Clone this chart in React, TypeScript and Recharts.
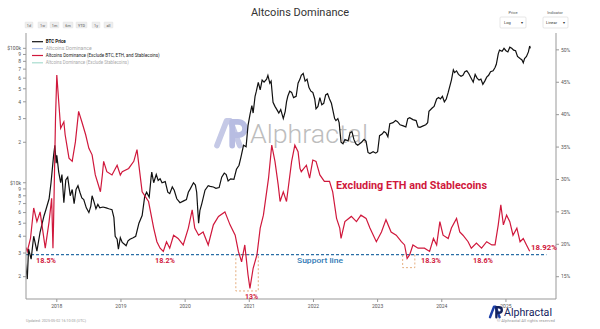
import React from 'react';
import { LineChart, Line, XAxis, YAxis, ReferenceLine, ReferenceArea } from 'recharts';

// ---- data (decimal years) ----
const btcDates = [
  2017.51, 2017.54, 2017.56, 2017.6, 2017.64, 2017.69, 2017.74, 2017.8, 2017.83, 2017.88, 2017.91, 2017.95, 2017.97, 2017.99,
  2018.0, 2018.03, 2018.06, 2018.08, 2018.11, 2018.14, 2018.17, 2018.21, 2018.24, 2018.27, 2018.3, 2018.33, 2018.36, 2018.39,
  2018.42, 2018.46, 2018.5, 2018.53, 2018.55, 2018.58, 2018.61, 2018.64, 2018.67, 2018.72, 2018.77, 2018.81, 2018.86, 2018.89,
  2018.91, 2018.94, 2018.96, 2018.99, 2019.02, 2019.05, 2019.08, 2019.11, 2019.14, 2019.19, 2019.23, 2019.28, 2019.33, 2019.37,
  2019.4, 2019.44, 2019.47, 2019.48, 2019.51, 2019.55, 2019.58, 2019.61, 2019.64, 2019.69, 2019.73, 2019.76, 2019.8, 2019.83,
  2019.87, 2019.92, 2019.97, 2020.02, 2020.05, 2020.08, 2020.13, 2020.16, 2020.18, 2020.21, 2020.23, 2020.26, 2020.31, 2020.36,
  2020.39, 2020.44, 2020.48, 2020.53, 2020.57, 2020.61, 2020.64, 2020.67, 2020.71, 2020.76, 2020.8, 2020.84, 2020.87, 2020.91,
  2020.95, 2020.98, 2021.01, 2021.04, 2021.06, 2021.09, 2021.11, 2021.14, 2021.17, 2021.2, 2021.23, 2021.27, 2021.29, 2021.32,
  2021.34, 2021.37, 2021.4, 2021.43, 2021.46, 2021.49, 2021.53, 2021.56, 2021.58, 2021.6, 2021.63, 2021.66, 2021.69, 2021.73,
  2021.76, 2021.79, 2021.81, 2021.84, 2021.87, 2021.9, 2021.93, 2021.96, 2021.99, 2022.02, 2022.04, 2022.07, 2022.1, 2022.13,
  2022.16, 2022.19, 2022.22, 2022.25, 2022.28, 2022.33, 2022.35, 2022.38, 2022.4, 2022.43, 2022.46, 2022.49, 2022.54, 2022.57,
  2022.6, 2022.63, 2022.66, 2022.69, 2022.72, 2022.75, 2022.79, 2022.82, 2022.85, 2022.88, 2022.93, 2022.97, 2023.0, 2023.03,
  2023.07, 2023.1, 2023.13, 2023.16, 2023.19, 2023.24, 2023.28, 2023.31, 2023.35, 2023.4, 2023.44, 2023.47, 2023.5, 2023.55,
  2023.6, 2023.63, 2023.66, 2023.71, 2023.75, 2023.78, 2023.8, 2023.85, 2023.88, 2023.92, 2023.95, 2023.98, 2024.01, 2024.04,
  2024.07, 2024.1, 2024.15, 2024.18, 2024.2, 2024.23, 2024.26, 2024.3, 2024.33, 2024.36, 2024.39, 2024.42, 2024.45, 2024.49,
  2024.52, 2024.55, 2024.58, 2024.61, 2024.64, 2024.67, 2024.7, 2024.73, 2024.76, 2024.8, 2024.83, 2024.85, 2024.88, 2024.9,
  2024.94, 2024.97, 2025.0, 2025.03, 2025.06, 2025.09, 2025.12, 2025.15, 2025.18, 2025.22, 2025.25, 2025.27, 2025.29, 2025.32,
  2025.35, 2025.37, 2025.38,
];
const btcPrices = [
  2540, 1920, 3220, 2700, 4000, 3100, 4300, 5660, 6300, 7600, 10000, 15900, 19000, 14000,
  16000, 12000, 10000, 11500, 7100, 10500, 11000, 8000, 8900, 7000, 8900, 9500, 8500, 7700,
  7500, 6500, 6000, 6700, 8000, 7200, 6400, 6900, 6500, 6600, 6500, 6400, 6300, 5500,
  4000, 3800, 3200, 3900, 3600, 3500, 3400, 3700, 3800, 3900, 4000, 5000, 5700, 7900,
  8500, 7800, 11000, 12000, 10000, 11500, 10400, 10700, 10000, 10200, 8500, 8300, 9300, 8800,
  7600, 7100, 7300, 7500, 8500, 9000, 10000, 9600, 8500, 5000, 6200, 7000, 8800, 9500,
  9400, 9300, 9100, 9200, 11000, 11800, 11500, 10300, 10700, 10600, 12600, 13500, 15500, 19000,
  18500, 26600, 32000, 37500, 33000, 44000, 48000, 55800, 49000, 58000, 56000, 59000, 63000, 55000,
  57000, 39700, 37000, 35000, 33000, 35000, 30000, 34000, 40000, 44000, 48000, 47000, 43000, 44000,
  55000, 59000, 63000, 65000, 57000, 59000, 51000, 48000, 47000, 42000, 35500, 37000, 43000, 38000,
  39000, 45000, 46000, 42000, 39000, 30000, 29000, 30000, 28000, 20000, 19500, 21000, 20500, 23500,
  24000, 21000, 19500, 19000, 19500, 20000, 21000, 20300, 16800, 16500, 17000, 16600, 17000, 22400,
  23000, 24000, 23500, 22000, 27500, 28000, 29000, 28500, 27000, 26500, 26000, 30000, 30500, 29500,
  29000, 26000, 25800, 26500, 27000, 28000, 34000, 36000, 37000, 42000, 43000, 42000, 44000, 40000,
  42000, 47000, 58000, 69000, 66000, 68000, 64000, 62000, 63000, 67000, 68000, 65000, 61000, 56000,
  64000, 60000, 58000, 59000, 54000, 57000, 61000, 63000, 67000, 68000, 72000, 76000, 91000, 97000,
  95000, 100000, 96000, 94000, 102000, 100000, 97000, 96000, 87000, 84000, 82000, 78000, 84000, 87000,
  94000, 104000, 100000,
];

const domDates = [
  2017.52, 2017.54, 2017.59, 2017.64, 2017.69, 2017.74, 2017.82, 2017.88, 2017.92, 2017.94, 2017.95, 2017.98,
  2018.0, 2018.03, 2018.06, 2018.11, 2018.13, 2018.19, 2018.24, 2018.29, 2018.34, 2018.39, 2018.45, 2018.5,
  2018.55, 2018.6, 2018.68, 2018.71, 2018.73, 2018.78, 2018.86, 2018.94, 2018.99, 2019.02, 2019.12, 2019.2,
  2019.25, 2019.33, 2019.43, 2019.51, 2019.56, 2019.61, 2019.66, 2019.71, 2019.76, 2019.82, 2019.89, 2019.97,
  2020.05, 2020.11, 2020.15, 2020.21, 2020.28, 2020.36, 2020.44, 2020.52, 2020.62, 2020.7, 2020.78, 2020.83,
  2020.88, 2020.93, 2020.98, 2021.01, 2021.06, 2021.12, 2021.17, 2021.22, 2021.3, 2021.35, 2021.4, 2021.45,
  2021.48, 2021.53, 2021.58, 2021.66, 2021.71, 2021.76, 2021.79, 2021.81, 2021.89, 2021.94, 2021.99, 2022.04,
  2022.1, 2022.17, 2022.25, 2022.3, 2022.36, 2022.41, 2022.43, 2022.49, 2022.59, 2022.67, 2022.74, 2022.82,
  2022.88, 2022.98, 2023.06, 2023.13, 2023.21, 2023.29, 2023.37, 2023.42, 2023.46, 2023.5, 2023.55, 2023.63,
  2023.73, 2023.81, 2023.87, 2023.92, 2023.97, 2024.02, 2024.1, 2024.15, 2024.23, 2024.28, 2024.33, 2024.41,
  2024.46, 2024.54, 2024.62, 2024.7, 2024.78, 2024.83, 2024.88, 2024.92, 2024.96, 2025.01, 2025.06, 2025.11,
  2025.17, 2025.22, 2025.27, 2025.32, 2025.37,
];
const domValues = [
  19.5, 18.9, 20.9, 25.6, 23.5, 25.0, 19.4, 23.5, 27.1, 19.4, 23.5, 39.5,
  46.1, 42.0, 37.9, 38.9, 36.9, 33.3, 32.8, 35.8, 40.5, 38.9, 36.9, 34.8,
  33.8, 30.7, 28.1, 30.7, 32.8, 31.2, 30.7, 32.2, 30.7, 31.2, 31.7, 32.8,
  34.6, 28.1, 26.6, 22.5, 20.4, 19.4, 18.9, 20.4, 19.4, 21.4, 20.9, 19.9,
  22.5, 25.3, 22.5, 21.4, 21.9, 19.9, 23.0, 24.3, 25.0, 23.0, 21.4, 18.9,
  17.3, 19.9, 15.3, 13.2, 16.3, 18.4, 22.5, 24.5, 30.2, 35.3, 32.8, 29.2,
  26.6, 28.1, 26.6, 32.8, 35.3, 34.3, 31.7, 31.2, 32.2, 30.2, 33.0, 32.8,
  30.7, 29.7, 29.7, 28.1, 24.0, 22.5, 20.9, 23.5, 24.3, 23.5, 24.5, 24.0,
  22.5, 20.4, 21.9, 23.8, 21.9, 21.4, 20.4, 19.9, 17.8, 18.4, 19.9, 19.4,
  19.4, 18.9, 20.9, 19.9, 23.5, 21.4, 20.9, 22.5, 24.0, 21.9, 21.4, 20.4,
  19.4, 20.2, 19.4, 20.4, 19.9, 19.9, 23.0, 26.1, 23.0, 24.5, 23.5, 21.4,
  22.5, 20.4, 20.9, 19.9, 18.92,
];

const yearTicks = [2018, 2019, 2020, 2021, 2022, 2023, 2024, 2025];
const priceTicks = [2000, 3000, 4000, 5000, 6000, 7000, 8000, 9000, 10000, 20000, 30000, 40000, 50000, 60000, 70000, 80000, 90000, 100000];
const pctTicks = [15, 20, 25, 30, 35, 40, 45, 50];
const supportLevel = 18.4;
const rangeButtons = ['1d', '1w', '1m', '6m', 'YTD', '1y', 'all'];

type Row = { t: number; btc?: number; dom?: number };
const rows: Row[] = [
  ...btcDates.map((t, i) => ({ t, btc: btcPrices[i] })),
  ...domDates.map((t, i) => ({ t, dom: domValues[i] })),
].sort((a, b) => a.t - b.t);

const RED = '#d0183c';
const FONT = 'Roboto, "DejaVu Sans", sans-serif';

const priceFmt = (v: number) => {
  if (v === 100000) return '$100k';
  if (v === 10000) return '$10k';
  if (v < 10000) return String(v / 1000);
  return String(v / 10000);
};

const tickStyle = { fontSize: 5, fill: '#555', fontFamily: FONT };

function Logo({ x, y, s, c1, c2 }: { x: number; y: number; s: number; c1: string; c2: string }) {
  return (
    <g transform={`translate(${x},${y}) scale(${s})`}>
      <path d="M0,28 L10,2 L14,2 L24,28" fill="none" stroke={c1} strokeWidth={6} strokeLinejoin="round" strokeLinecap="round" />
      <path d="M16,28 L16,3 L22,3 C32,3 32,17 22,17 L17,17" fill="none" stroke={c2} strokeWidth={6} strokeLinejoin="round" strokeLinecap="round" />
    </g>
  );
}

export default function App() {
  return (
    <div style={{ position: 'absolute', left: 0, top: 0, width: 600, height: 329, background: '#fff', fontFamily: FONT }}>
      {/* watermark behind */}
      <svg width={600} height={329} style={{ position: 'absolute', left: 0, top: 0 }}>
        <Logo x={217} y={119} s={0.95} c1="#c5c9e6" c2="#b8bde2" />
        <text x={250} y={143} fontSize={26} fontWeight={300} fill="#bdbdbd" fontFamily={FONT} textLength={118} lengthAdjust="spacingAndGlyphs">Alphractal</text>
      </svg>
      <div style={{ position: 'absolute', left: 0, top: 0 }}>
        <LineChart width={600} height={329} data={rows} margin={{ top: 33, right: 0, bottom: 10, left: 6 }}>
          <XAxis
            dataKey="t"
            type="number"
            domain={[2017.52, 2025.78]}
            ticks={yearTicks}
            tickFormatter={(v: number) => String(v)}
            allowDataOverflow
            height={20}
            tick={tickStyle}
            tickSize={3}
            axisLine={{ stroke: '#999' }}
            tickLine={{ stroke: '#999' }}
          />
          <YAxis
            yAxisId="btc"
            scale="log"
            domain={[1365, 130000]}
            ticks={priceTicks}
            tickFormatter={priceFmt}
            allowDataOverflow
            width={20}
            tick={tickStyle}
            tickSize={3}
            axisLine={{ stroke: '#999' }}
            tickLine={{ stroke: '#999' }}
            interval={0}
          />
          <YAxis
            yAxisId="dom"
            orientation="right"
            domain={[11.56, 52.6]}
            ticks={pctTicks}
            tickFormatter={(v: number) => `${v}%`}
            allowDataOverflow
            width={44}
            tick={tickStyle}
            tickSize={3}
            axisLine={{ stroke: '#999' }}
            tickLine={{ stroke: '#999' }}
            interval={0}
          />
          <ReferenceLine
            yAxisId="dom"
            segment={[{ x: 2017.52, y: supportLevel }, { x: 2025.63, y: supportLevel }]}
            stroke="#2a6ea6"
            strokeDasharray="3 2"
            strokeWidth={1.2}
          />
          <ReferenceArea yAxisId="dom" x1={2020.79} x2={2021.14} y1={12.8} y2={supportLevel} fill="none" stroke="#e09a60" strokeDasharray="2 2" strokeWidth={0.8} />
          <ReferenceArea yAxisId="dom" x1={2023.39} x2={2023.58} y1={16.4} y2={supportLevel} fill="none" stroke="#e09a60" strokeDasharray="2 2" strokeWidth={0.8} />
          <Line yAxisId="btc" dataKey="btc" stroke="#111" strokeWidth={1.2} dot={false} connectNulls isAnimationActive={false} />
          <Line yAxisId="dom" dataKey="dom" stroke={RED} strokeWidth={1.2} dot={false} connectNulls isAnimationActive={false} />
        </LineChart>
      </div>
      {/* overlay texts */}
      <svg width={600} height={329} style={{ position: 'absolute', left: 0, top: 0, pointerEvents: 'none' }} fontFamily={FONT}>
        <text x={300} y={16} textAnchor="middle" fontSize={11} fill="#333">Altcoins Dominance</text>
        {rangeButtons.map((b, i) => {
          const xs = [25, 38, 50, 63, 76, 92, 104];
          const ws = [8, 9, 9, 10, 11, 8, 9];
          return (
            <g key={b}>
              <rect x={xs[i]} y={22} width={ws[i]} height={6} fill="#eee" stroke="#ddd" strokeWidth={0.4} rx={0.8} />
              <text x={xs[i] + ws[i] / 2} y={26.5} textAnchor="middle" fontSize={3.8} fill="#555">{b}</text>
            </g>
          );
        })}
        <text x={513} y={14} textAnchor="middle" fontSize={4} fill="#555">Price</text>
        <rect x={500} y={17} width={26} height={11} fill="#fff" stroke="#ccc" strokeWidth={0.5} rx={1} />
        <text x={504} y={24} fontSize={4} fill="#333">Log</text>
        <text x={521} y={24} fontSize={4} fill="#333">▾</text>
        <text x={555} y={14} textAnchor="middle" fontSize={4} fill="#555">Indicator</text>
        <rect x={543} y={17} width={25} height={11} fill="#fff" stroke="#ccc" strokeWidth={0.5} rx={1} />
        <text x={546} y={24} fontSize={4} fill="#333">Linear</text>
        <text x={563} y={24} fontSize={4} fill="#333">▾</text>

        {/* legend */}
        <line x1={32} x2={43} y1={41.7} y2={41.7} stroke="#111" strokeWidth={1.2} />
        <text x={45.7} y={43.2} fontSize={4.5} fill="#111" fontWeight={700}>BTC Price</text>
        <line x1={32} x2={43} y1={48.6} y2={48.6} stroke="#aebfe8" strokeWidth={1.2} />
        <text x={45.7} y={50.1} fontSize={4.5} fill="#aaa" textLength={46} lengthAdjust="spacingAndGlyphs">Altcoins Dominance</text>
        <line x1={32} x2={43} y1={55.5} y2={55.5} stroke={RED} strokeWidth={1.2} />
        <text x={45.7} y={57} fontSize={4.5} fill="#222" textLength={114} lengthAdjust="spacingAndGlyphs">Altcoins Dominance (Exclude BTC, ETH, and Stablecoins)</text>
        <line x1={32} x2={43} y1={62.8} y2={62.8} stroke="#a8dccf" strokeWidth={1.2} />
        <text x={45.7} y={64.3} fontSize={4.5} fill="#aaa" textLength={83} lengthAdjust="spacingAndGlyphs">Altcoins Dominance (Exclude Stablecoins)</text>

        {/* annotations */}
        <text x={336} y={189} fontSize={10.5} fontWeight={700} fill={RED} textLength={151} lengthAdjust="spacingAndGlyphs">Excluding ETH and Stablecoins</text>
        <text x={297} y={263} fontSize={8} fontWeight={500} fill="#2f7ab5" textLength={46} lengthAdjust="spacingAndGlyphs">Support line</text>
        <text x={36} y={263} fontSize={8} fontWeight={700} fill={RED} textLength={20} lengthAdjust="spacingAndGlyphs">18.5%</text>
        <text x={155} y={263} fontSize={8} fontWeight={700} fill={RED} textLength={20} lengthAdjust="spacingAndGlyphs">18.2%</text>
        <text x={245} y={299} fontSize={8} fontWeight={700} fill={RED} textLength={13} lengthAdjust="spacingAndGlyphs">13%</text>
        <text x={421} y={263} fontSize={8} fontWeight={700} fill={RED} textLength={20} lengthAdjust="spacingAndGlyphs">18.3%</text>
        <text x={473} y={263} fontSize={8} fontWeight={700} fill={RED} textLength={20} lengthAdjust="spacingAndGlyphs">18.6%</text>
        <text x={531} y={250} fontSize={8} fontWeight={700} fill={RED} textLength={26} lengthAdjust="spacingAndGlyphs">18.92%</text>

        {/* footer */}
        <text x={26} y={322} fontSize={3.6} fill="#999" textLength={60} lengthAdjust="spacingAndGlyphs">Updated: 2025-05-02 16:10:03 (UTC)</text>
        <Logo x={490} y={306} s={0.4} c1="#1c3fa8" c2="#14235e" />
        <text x={504} y={316} fontSize={10} fill="#14235e" textLength={48} lengthAdjust="spacingAndGlyphs">Alphractal</text>
        <text x={497} y={322} fontSize={3.4} fill="#999" textLength={58} lengthAdjust="spacingAndGlyphs">© Alphractal All rights reserved</text>
      </svg>
    </div>
  );
}
